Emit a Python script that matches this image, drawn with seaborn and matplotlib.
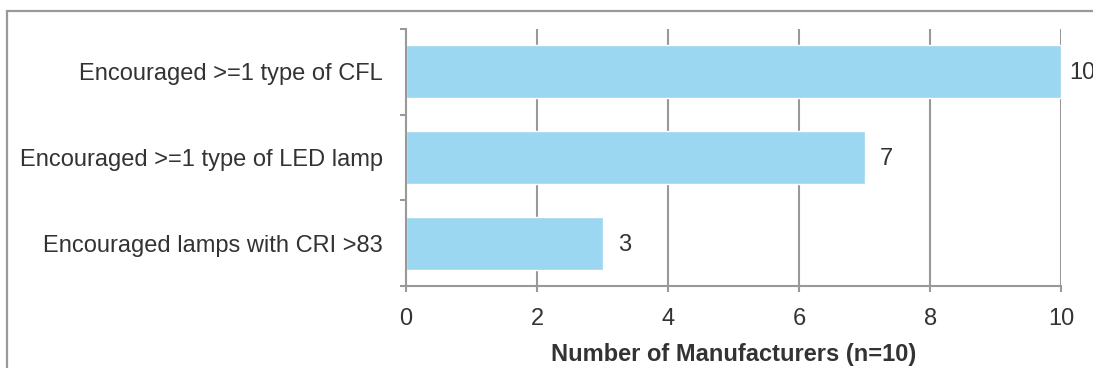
import matplotlib
matplotlib.use("Agg")
import matplotlib.pyplot as plt
from matplotlib.patches import Rectangle
from matplotlib.transforms import offset_copy
import seaborn as sns
import pandas as pd

categories = [
    "Encouraged >=1 type of CFL",
    "Encouraged >=1 type of LED lamp",
    "Encouraged lamps with CRI >83",
]
counts = [10, 7, 3]
x_ticks = [0, 2, 4, 6, 8, 10]
x_label = "Number of Manufacturers (n=10)"

sns.set_theme(style="white")
plt.rcParams["font.family"] = ["Liberation Sans", "DejaVu Sans"]

df = pd.DataFrame({"category": categories, "count": counts})

fig = plt.figure(figsize=(10.93, 3.68), dpi=100)
ax = fig.add_axes([0.3715, 0.2228, 0.5993, 0.6984])

grey = "#999999"
text_col = "#333333"
fs = 17

ax.set_axisbelow(True)
for x in x_ticks[1:]:
    ax.axvline(x, color=grey, lw=1.5, zorder=0)

sns.barplot(data=df, y="category", x="count", orient="h", color="#9BD7F0",
            saturation=1, width=0.62, ax=ax, zorder=2)

# value labels just past the end of each bar
x_max = max(x_ticks)
for i, v in enumerate(counts):
    gap = 6 if v >= x_max else 11
    tr = offset_copy(ax.transData, fig=fig, x=gap, y=-1, units="points")
    ax.text(v, i, f"{v}", va="center", ha="left", fontsize=fs,
            color=text_col, transform=tr, clip_on=False)

ax.set_xlim(0, 10)
ax.set_ylim(2.5, -0.5)
ax.set_xticks(x_ticks)
ax.set_xticklabels([str(t) for t in x_ticks], fontsize=fs, color=text_col)
ax.set_yticks(range(len(categories)))
ax.set_yticklabels(categories, fontsize=fs, color=text_col)
ax.set_yticks([-0.5, 0.5, 1.5, 2.5], minor=True)
ax.tick_params(axis="y", which="major", left=False, length=0, pad=16.5)
ax.tick_params(axis="y", which="minor", left=True, length=4.5, width=1.5,
               color=grey, direction="out")
ax.tick_params(axis="x", which="major", bottom=True, length=4.5, width=1.5,
               color=grey, direction="out", pad=11)
ax.set_xlabel(x_label, fontsize=fs, fontweight="bold", color=text_col, labelpad=10)
ax.set_ylabel("")

for side in ["top", "right"]:
    ax.spines[side].set_visible(False)
for side in ["left", "bottom"]:
    ax.spines[side].set_color(grey)
    ax.spines[side].set_linewidth(1.5)

# outer frame around the figure region
fig.patches.append(Rectangle((7 / 1093, -0.2), 1.2, 1.2 - 11 / 368,
                             transform=fig.transFigure, fill=False,
                             edgecolor=grey, lw=1.6, zorder=10))

fig.savefig("out.png", dpi=100)
